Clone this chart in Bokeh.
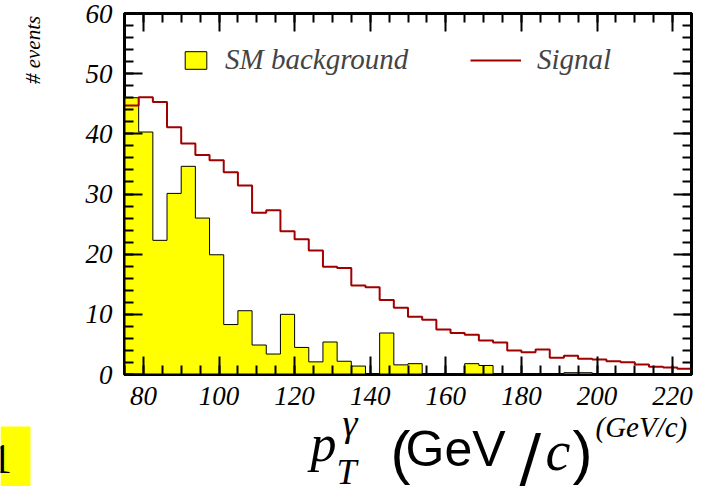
import numpy as np
from bokeh.plotting import figure
from bokeh.layouts import row, column
from bokeh.models import (Range1d, LinearAxis, SingleIntervalTicker,
                          Legend, LegendItem)
from bokeh.core.properties import value
from bokeh.embed import file_html
from bokeh.resources import INLINE

# ---------------- data ----------------
x_min, x_max, n_bins = 75.0, 225.0, 40
y_min, y_max = 0, 60

background = [46.0, 40.3, 22.3, 30.1, 34.6, 26.0, 19.9, 8.3, 10.6, 4.9,
              3.4, 10.0, 4.5, 2.1, 5.4, 2.2, 1.4, 0.0, 6.9, 1.6,
              1.8, 0.0, 0.0, 0.15, 1.8, 1.5, 0.0, 0.0, 0.0, 0.0,
              0.0, 0.3, 0.3, 0.0, 0.1, 0.0, 0.0, 0.0, 0.0, 0.0]

signal = [44.7, 46.1, 45.3, 41.1, 38.4, 36.5, 35.6, 33.6, 31.4, 26.9,
          27.3, 23.8, 22.5, 20.6, 17.9, 17.7, 14.8, 14.5, 12.4, 11.1,
          9.6, 9.1, 7.5, 6.9, 6.6, 5.65, 5.3, 4.0, 3.7, 4.15,
          2.8, 3.1, 2.6, 2.5, 2.2, 2.05, 1.65, 1.3, 1.15, 0.95]

legend_labels = ["SM background", "Signal"]
y_title = "# events"
x_title_unit = "(GeV/c)"

edges = np.linspace(x_min, x_max, n_bins + 1)
bg_ext = list(background) + [background[-1]]
sig_ext = list(signal) + [signal[-1]]

SERIF = "Liberation Serif"
SANS = "Liberation Sans"

W, H = 709, 486
LEFT_W = 60          # strip holding the y title
TOP_H = 416          # main plot height
BOT_H = H - TOP_H    # strip holding the x title

# ---------------- main plot ----------------
p = figure(width=W - LEFT_W, height=TOP_H,
           x_range=Range1d(x_min, x_max), y_range=Range1d(y_min, y_max),
           output_backend="svg", toolbar_location=None,
           min_border_left=124 - LEFT_W, min_border_right=18,
           min_border_top=13, min_border_bottom=TOP_H - 374)
p.xgrid.visible = False
p.ygrid.visible = False
p.background_fill_color = "white"
p.border_fill_color = "white"
p.outline_line_color = "black"
p.outline_line_width = 3

p.varea_step(x=edges, y1=np.zeros(len(edges)), y2=bg_ext, step_mode="after",
             fill_color="#ffff00")
p.step(x=edges, y=bg_ext, mode="after", line_color="black", line_width=1)
r_sig = p.step(x=edges, y=sig_ext, mode="after", line_color="#a00000", line_width=2)

# hidden proxy of the filled histogram (legend box with outline)
r_leg_bg = p.quad(left=edges[:-1], right=edges[1:], top=background, bottom=0,
                  fill_color="#ffff00", line_color="black", line_width=1)
r_leg_bg.visible = False

p.xaxis.ticker = SingleIntervalTicker(interval=20, num_minor_ticks=4)
p.yaxis.ticker = SingleIntervalTicker(interval=10, num_minor_ticks=5)

def style(ax, show_labels, standoff=10):
    ax.axis_line_color = "black"
    ax.axis_line_width = 2
    ax.major_tick_in = 18
    ax.major_tick_out = 0
    ax.minor_tick_in = 9
    ax.minor_tick_out = 0
    ax.major_tick_line_width = 2
    ax.minor_tick_line_width = 2
    ax.major_tick_line_color = "black"
    ax.minor_tick_line_color = "black"
    if show_labels:
        ax.major_label_text_font = SERIF
        ax.major_label_text_font_style = "italic"
        ax.major_label_text_font_size = "27px"
        ax.major_label_text_color = "black"
        ax.major_label_standoff = standoff
    else:
        ax.major_label_text_font_size = "0px"
        ax.major_label_text_alpha = 0
        ax.major_label_standoff = 0

style(p.xaxis[0], True, 12)
style(p.yaxis[0], True, 12)
top_ax = LinearAxis(ticker=SingleIntervalTicker(interval=20, num_minor_ticks=4))
right_ax = LinearAxis(ticker=SingleIntervalTicker(interval=10, num_minor_ticks=5))
style(top_ax, False)
style(right_ax, False)
p.add_layout(top_ax, "above")
p.add_layout(right_ax, "right")

common = dict(glyph_height=22, label_standoff=16, padding=0, margin=0, spacing=0,
              border_line_color=None, background_fill_alpha=0,
              inactive_fill_alpha=0,
              label_text_font=SERIF, label_text_font_style="italic",
              label_text_font_size="29px", label_height=22)
leg1 = Legend(items=[LegendItem(label=legend_labels[0], renderers=[r_leg_bg])],
              location=(58, 298), glyph_width=27, **common)
leg2 = Legend(items=[LegendItem(label=legend_labels[1], renderers=[r_sig])],
              location=(346, 298), glyph_width=51, **common)
p.add_layout(leg1)
p.add_layout(leg2)

# ---------------- helper strips (pixel coordinates) ----------------
def strip(w, h):
    f = figure(width=w, height=h, x_range=Range1d(0, w), y_range=Range1d(0, h),
               output_backend="svg", toolbar_location=None,
               x_axis_type=None, y_axis_type=None,
               min_border=0, min_border_left=0, min_border_right=0,
               min_border_top=0, min_border_bottom=0)
    f.xgrid.visible = False
    f.ygrid.visible = False
    f.outline_line_color = None
    f.background_fill_color = "white"
    f.border_fill_color = "white"
    return f

pl = strip(LEFT_W, TOP_H)
pl.text(x=[32], y=[TOP_H - 42], text=[y_title], angle=np.pi / 2,
        text_font=value(SERIF), text_font_style="italic", text_font_size="21px",
        text_align="center", text_baseline="middle", text_color="black")

pb = strip(W, BOT_H)
K = 0.32  # baseline correction (fraction of font size)

def piece(txt, wx, wy, size, font=SERIF, fstyle="italic", align="left"):
    px = float(size.replace("px", ""))
    pb.text(x=[wx], y=[H - wy + K * px], text=[txt], text_font=value(font),
            text_font_style=fstyle, text_font_size=size, text_color="black",
            text_align=align, text_baseline="alphabetic")

# stray yellow box with clipped "1" at bottom-left
pb.quad(left=[0], right=[30], bottom=[0], top=[H - 426],
        fill_color="#ffff00", line_color=None)
piece("1", 1, 472, "42px", fstyle="normal", align="center")

piece("p", 310, 460, "52px")
piece("T", 336, 483, "36px")
piece("\u03b3", 342, 435, "38px")
piece("(", 390, 471, "60px", font=SANS, fstyle="normal")
piece("GeV", 405, 464, "50px", font=SANS, fstyle="normal")
piece("/", 519, 478, "64px", font="DejaVu Sans", fstyle="normal")
piece("c", 545, 468, "56px")
piece(")", 572, 471, "60px", font=SANS, fstyle="normal")
piece(x_title_unit, 595, 436, "29px")

layout = column(row(pl, p, spacing=0), pb, spacing=0)
open("out.html", "w").write(file_html(layout, INLINE))
